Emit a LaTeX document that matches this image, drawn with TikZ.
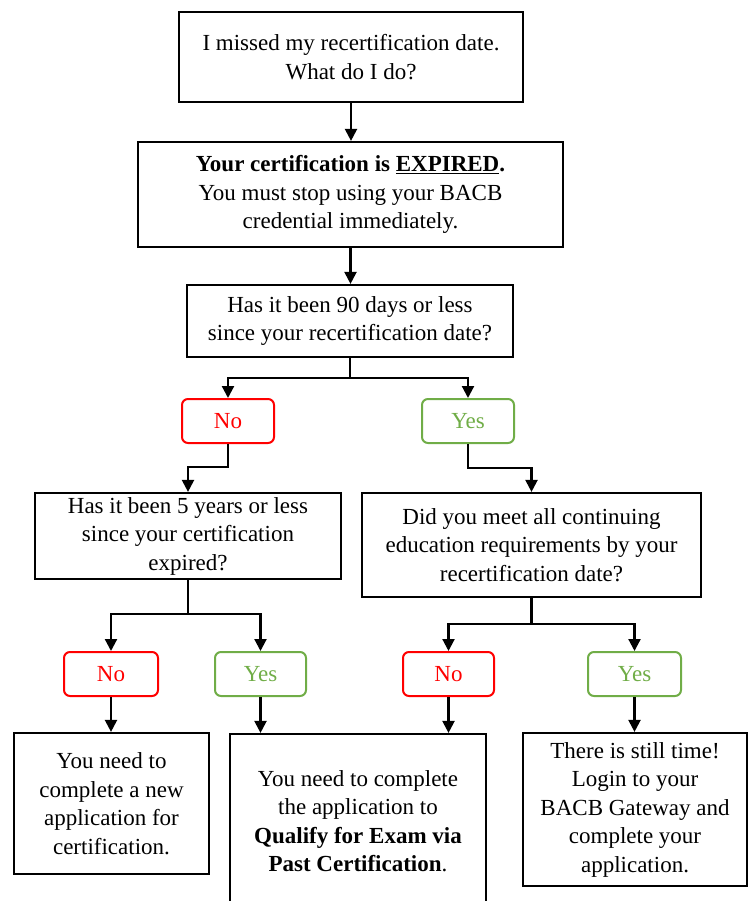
\documentclass[tikz,border=0pt]{standalone}
\usepackage{fontspec}
\setmainfont{Liberation Serif}
\usetikzlibrary{arrows.meta}

\definecolor{nored}{RGB}{255,0,0}
\definecolor{yesgreen}{RGB}{112,173,71}

\tikzstyle{bx} = [draw = black, line width = 2.2pt, inner sep = 0pt, align = center, font = \fontsize{23}{28.5}\selectfont]
\tikzstyle{nb} = [draw = nored, text = nored, line width = 2pt, rounded corners = 6pt, minimum height = 44pt, inner sep = 0pt, font = \fontsize{23}{28.5}\selectfont]
\tikzstyle{yb} = [draw = yesgreen, text = yesgreen, line width = 2pt, rounded corners = 6pt, minimum height = 44pt, inner sep = 0pt, font = \fontsize{23}{28.5}\selectfont]
\tikzstyle{ar} = [draw = black, line width = 2.2pt, -{Triangle[length = 12pt, width = 12pt]}]
\tikzstyle{ln} = [draw = black, line width = 2.2pt]

\begin{document}
\begin{tikzpicture}[x = 1pt, y = -1pt]
        \useasboundingbox (0,0) rectangle (750,901);

        \node [bx, minimum width = 344pt, minimum height = 90pt] (missed) at (351,57) {I missed my recertification date.\\What do I do?};
        \node [bx, minimum width = 425pt, minimum height = 105pt] (expired) at (350.5,194.5) {\textbf{Your certification is \underline{EXPIRED}.}\\You must stop using your BACB\\credential immediately.};
        \node [bx, minimum width = 326pt, minimum height = 72pt] (days) at (350,321) {Has it been 90 days or less\\since your recertification date?};

        \node [nb, minimum width = 92pt] (noA) at (228,421) {No};
        \node [yb, minimum width = 92pt] (yesA) at (468,421) {Yes};

        \node [bx, minimum width = 306pt, minimum height = 86pt] (years) at (188,536) {Has it been 5 years or less\\since your certification\\expired?};
        \node [bx, minimum width = 339pt, minimum height = 104pt] (ceu) at (531.5,545) {Did you meet all continuing\\education requirements by your\\recertification date?};

        \node [nb, minimum width = 94pt] (noB) at (111,674) {No};
        \node [yb, minimum width = 91pt] (yesB) at (260.5,674) {Yes};
        \node [nb, minimum width = 91pt] (noC) at (448.5,674) {No};
        \node [yb, minimum width = 93pt] (yesC) at (634.5,674) {Yes};

        \node [bx, minimum width = 195pt, minimum height = 141pt] (newapp) at (111.5,803.5) {You need to\\complete a new\\application for\\certification.};
        \node [bx, minimum width = 256pt, minimum height = 174pt] (pastcert) at (358,821) {You need to complete\\the application to\\\textbf{Qualify for Exam via}\\\textbf{Past Certification}.};
        \node [bx, minimum width = 224pt, minimum height = 153pt] (gateway) at (635,809.5) {There is still time!\\Login to your\\BACB Gateway and\\complete your\\application.};

        \coordinate (splitA) at (350,378);
        \coordinate (bendNo) at (228,467);
        \coordinate (bendYes) at (468,468);
        \coordinate (splitB) at (188,614);
        \coordinate (splitC) at (531.5,624);

        \draw [ar] (missed.south) -- (missed.south |- expired.north);
        \draw [ar] (expired.south) -- (expired.south |- days.north);
        \draw [ln] (days.south) -- (splitA);
        \draw [ar] (splitA) -| (noA.north);
        \draw [ar] (splitA) -| (yesA.north);
        \draw [ar] (noA.south) -- (bendNo) -| (years.north);
        \draw [ar] (yesA.south) -- (bendYes) -| (ceu.north);
        \draw [ln] (years.south) -- (splitB);
        \draw [ar] (splitB) -| (noB.north);
        \draw [ar] (splitB) -| (yesB.north);
        \draw [ln] (ceu.south) -- (splitC);
        \draw [ar] (splitC) -| (noC.north);
        \draw [ar] (splitC) -| (yesC.north);
        \draw [ar] (noB.south) -- (noB.south |- newapp.north);
        \draw [ar] (yesB.south) -- (yesB.south |- pastcert.north);
        \draw [ar] (noC.south) -- (noC.south |- pastcert.north);
        \draw [ar] (yesC.south) -- (yesC.south |- gateway.north);
\end{tikzpicture}
\end{document}
